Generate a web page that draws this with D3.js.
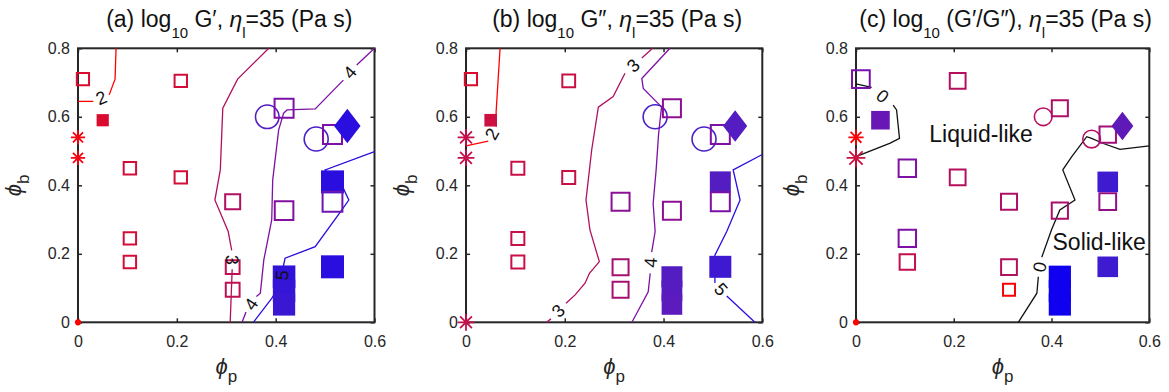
<!DOCTYPE html>
<html>
<head>
<meta charset="utf-8">
<script src="https://cdn.jsdelivr.net/npm/d3@7"></script>
<style>
  body { margin: 0; background: #fff; }
  text { font-family: "Liberation Sans", Arial, sans-serif; white-space: pre; }
</style>
</head>
<body>
<svg id="fig" width="1169" height="392"></svg>
<script>
// samples: phi_p, phi_b and marker type (shared by the three panels)
const phiP = [0, 0, 0, 0.01, 0.05, 0.105, 0.105, 0.105, 0.208, 0.208, 0.313, 0.313, 0.313,
              0.383, 0.417, 0.417, 0.417, 0.417, 0.417, 0.482, 0.515, 0.515, 0.515, 0.515, 0.545];
const phiB = [0, 0.48, 0.54, 0.71, 0.59, 0.45, 0.245, 0.176, 0.705, 0.423, 0.352, 0.161, 0.095,
              0.60, 0.625, 0.326, 0.133, 0.092, 0.052, 0.535, 0.548, 0.41, 0.352, 0.162, 0.573];
const kind = ["dot", "star", "star", "open", "filled", "open", "open", "open", "open", "open", "open", "open", "open",
              "circle", "open", "open", "filled", "filled", "filled", "circle", "open", "filled", "open", "filled", "diamond"];
const kindB = kind.map((k, i) => i === 0 ? "star" : k);

// per-sample values
const logGp = [2.0, 2.1, 2.1, 2.3, 2.3, 2.35, 2.35, 2.35, 2.35, 2.35, 3.0, 2.7, 2.7,
               4.5, 4.0, 3.9, 4.9, 4.85, 4.8, 4.6, 4.0, 5.0, 4.2, 5.0, 5.0];
const logGpp = [2.6, 2.6, 2.6, 2.3, 2.4, 2.5, 2.5, 2.5, 2.45, 2.5, 3.75, 3.25, 3.25,
                4.6, 3.75, 3.75, 4.5, 4.45, 4.4, 4.6, 4.0, 4.5, 4.0, 4.75, 4.5];
const logRatio = [-0.6, -0.1, -0.45, 0.24, 0.35, 0.2, 0.2, -0.05, 0.0, 0.0, 0.03, 0.0, -0.48,
                  0.0, 0.03, 0.05, 0.8, 0.8, 0.8, 0.0, 0.08, 0.6, 0.12, 0.6, 0.4];

const xTicks = [0, 0.2, 0.4, 0.6];
const yTicks = [0, 0.2, 0.4, 0.6, 0.8];

// contour lines; a label sits in every gap between two pieces
const contGp = [
  {level: 2, pieces: [[[0, 0.645], [0.031, 0.645]], [[0.063, 0.664], [0.075, 0.71], [0.077, 0.8]]]},
  {level: 3, pieces: [[[0.386, 0.8], [0.323, 0.71], [0.293, 0.625], [0.288, 0.445], [0.277, 0.357], [0.304, 0.265], [0.311, 0.21]],
                      [[0.312, 0.155], [0.308, 0]]]},
  {level: 4, pieces: [[[0.6, 0.8], [0.564, 0.751]],
                      [[0.537, 0.707], [0.48, 0.623], [0.423, 0.62], [0.416, 0.61], [0.406, 0.561], [0.394, 0.415],
                       [0.392, 0.299], [0.376, 0.182], [0.369, 0.085], [0.361, 0.075]],
                      [[0.34, 0.03], [0.332, 0]]]},
  {level: 5, pieces: [[[0.6, 0.498], [0.5, 0.445], [0.537, 0.391], [0.548, 0.357], [0.534, 0.328], [0.48, 0.221], [0.419, 0.187], [0.415, 0.16]],
                      [[0.412, 0.115], [0.392, 0.07], [0.355, 0]]]}
];
const contGpp = [
  {level: 2, pieces: [[[0.069, 0.8], [0.061, 0.615], [0.061, 0.571]], [[0.045, 0.529], [0, 0.515]]]},
  {level: 3, pieces: [[[0.378, 0.8], [0.356, 0.772]],
                      [[0.322, 0.727], [0.298, 0.659], [0.268, 0.628], [0.2545, 0.503], [0.243, 0.357], [0.251, 0.27],
                       [0.27, 0.177], [0.25, 0.143], [0.241, 0.114], [0.221, 0.08], [0.2025, 0.0555]],
                      [[0.172, 0.01], [0.163, 0]]]},
  {level: 4, pieces: [[[0.413, 0.8], [0.356, 0.712], [0.359, 0.683], [0.396, 0.629], [0.39, 0.55], [0.385, 0.445],
                       [0.379, 0.347], [0.383, 0.265], [0.376, 0.205]],
                      [[0.373, 0.143], [0.369, 0.089], [0.336, 0]]]},
  {level: 5, pieces: [[[0.6, 0.49], [0.541, 0.445], [0.555, 0.357], [0.528, 0.265], [0.504, 0.196], [0.504, 0.115]],
                      [[0.528, 0.077], [0.585, 0]]]}
];
const contRatio = [
  {level: 0, pieces: [[[0, 0.696], [0.032, 0.686]], [[0.076, 0.634], [0.083, 0.62], [0.089, 0.537], [0.07, 0.523], [0, 0.484]]]},
  {level: 0, pieces: [[[0.332, 0], [0.37, 0.085], [0.373, 0.133]],
                      [[0.38, 0.19], [0.4, 0.27], [0.417, 0.328], [0.448, 0.357], [0.423, 0.445], [0.441, 0.483],
                       [0.472, 0.542], [0.482, 0.537], [0.506, 0.522], [0.54, 0.505], [0.6, 0.515]]]}
];

const colorRange = ["#ff0000", "#cc1040", "#a8106c", "#7e10a6", "#4a20c8", "#1000f0"];
const ink = "#262626";

const svg = d3.select("#fig");
svg.append("rect").attr("width", 1169).attr("height", 392).attr("fill", "#fff");

const panels = [
  {letter: "a", what: "G\u2032", left: 78, right: 374.5, vals: logGp, kinds: kind, contours: contGp,
   colorDomain: [2.0, 2.4, 3.2, 4.0, 4.6, 5.3], sizeDomain: [2, 5]},
  {letter: "b", what: "G\u2033", left: 466, right: 762.3, vals: logGpp, kinds: kindB, contours: contGpp,
   colorDomain: [2.0, 2.4, 3.2, 4.0, 4.6, 5.3], sizeDomain: [2, 5]},
  {letter: "c", what: "(G\u2032/G\u2033)", left: 856, right: 1149.3, vals: logRatio, kinds: kind, contours: contRatio,
   colorDomain: [-0.5, -0.1, 0.05, 0.2, 0.55, 0.8], sizeDomain: [-0.6, 0.9], lineColor: "#111",
   notes: [{text: "Liquid-like", at: [0.15, 0.527]}, {text: "Solid-like", at: [0.402, 0.211]}]}
];

function markerPath(k, s) {
  if (k === "open" || k === "filled") return d3.symbol(d3.symbolSquare, s * s)();
  if (k === "circle") return d3.symbol(d3.symbolCircle, Math.PI * Math.pow(s * 1.12 / 2, 2))();
  if (k === "dot") return d3.symbol(d3.symbolCircle, Math.PI * Math.pow(s * 0.28, 2))();
  const p = d3.path();
  if (k === "diamond") {
    const w = s * 1.15 / 2, h = s * 1.5 / 2;
    p.moveTo(0, -h); p.lineTo(w, 0); p.lineTo(0, h); p.lineTo(-w, 0); p.closePath();
  } else {
    const h = s * 1.25 / 2, d = h * 0.707;
    p.moveTo(-h, 0); p.lineTo(h, 0);
    p.moveTo(0, -h); p.lineTo(0, h);
    p.moveTo(-d, -d); p.lineTo(d, d);
    p.moveTo(-d, d); p.lineTo(d, -d);
  }
  return p.toString();
}

panels.forEach(p => {
  const g = svg.append("g");
  const x = d3.scaleLinear([0, 0.6], [p.left, p.right]);
  const y = d3.scaleLinear([0, 0.8], [322.3, 48.3]);
  const colour = d3.scaleLinear(p.colorDomain, colorRange).clamp(true);
  const size = d3.scaleLinear(p.sizeDomain, [11, 23]).clamp(true);
  const line = d3.line(d => x(d[0]), d => y(d[1]));
  const fmt = d => String(+d.toFixed(1));

  // axes with inward ticks on all four sides
  const axes = [
    [d3.axisBottom(x).tickValues(xTicks).tickFormat(fmt).tickPadding(13), `translate(0,${y(0)})`],
    [d3.axisTop(x).tickValues(xTicks).tickFormat(""), `translate(0,${y(0.8)})`],
    [d3.axisLeft(y).tickValues(yTicks).tickFormat(fmt).tickPadding(8), `translate(${x(0)},0)`],
    [d3.axisRight(y).tickValues(yTicks).tickFormat(""), `translate(${x(0.6)},0)`]
  ];
  axes.forEach(([ax, tr]) => {
    const a = g.append("g").attr("transform", tr)
      .call(ax.tickSizeInner(-4).tickSizeOuter(0));
    a.select(".domain").remove();
    a.selectAll("line").attr("stroke", ink).attr("stroke-width", 1.5);
    a.selectAll("text").attr("fill", ink).attr("font-size", 16)
      .attr("font-family", "Liberation Sans, Arial, sans-serif");
  });
  g.append("rect")
    .attr("x", x(0)).attr("y", y(0.8))
    .attr("width", x(0.6) - x(0)).attr("height", y(0) - y(0.8))
    .attr("fill", "none").attr("stroke", ink).attr("stroke-width", 2);

  // contour lines
  p.contours.forEach(c => {
    c.pieces.forEach(pc => {
      g.append("path").attr("d", line(pc)).attr("fill", "none")
        .attr("stroke", p.lineColor || colour(c.level)).attr("stroke-width", 1.3);
    });
  });

  // markers
  const samples = phiP.map((v, i) => ({px: v, pb: phiB[i], k: p.kinds[i], v: p.vals[i]}));
  const solid = k => k === "filled" || k === "diamond" || k === "dot";
  g.selectAll("path.mk").data(samples).join("path").attr("class", "mk")
    .attr("transform", d => `translate(${x(d.px)},${y(d.pb)})`)
    .attr("d", d => markerPath(d.k, size(d.v)))
    .attr("fill", d => solid(d.k) ? colour(d.v) : "none")
    .attr("stroke", d => solid(d.k) ? "none" : colour(d.v))
    .attr("stroke-width", d => d.k === "open" ? 2 : d.k === "star" ? 1.8 : 1.6);

  // contour labels in the gaps
  p.contours.forEach(c => {
    for (let i = 0; i + 1 < c.pieces.length; i++) {
      const a = c.pieces[i][c.pieces[i].length - 1], b = c.pieces[i + 1][0];
      const x1 = x(a[0]), y1 = y(a[1]), x2 = x(b[0]), y2 = y(b[1]);
      let ang = Math.atan2(y2 - y1, x2 - x1) * 180 / Math.PI;
      if (ang > 90) ang -= 180;
      if (ang < -90) ang += 180;
      g.append("text")
        .attr("transform", `translate(${(x1 + x2) / 2},${(y1 + y2) / 2}) rotate(${ang})`)
        .attr("text-anchor", "middle").attr("dominant-baseline", "central")
        .attr("font-size", 18).attr("fill", "#111").text(c.level);
    }
  });

  (p.notes || []).forEach(n => {
    g.append("text").attr("x", x(n.at[0])).attr("y", y(n.at[1]))
      .attr("font-size", 23).attr("fill", "#111").text(n.text);
  });

  // title
  const cx = (x(0) + x(0.6)) / 2 + 3;
  const t = g.append("text").attr("x", cx).attr("y", 27)
    .attr("text-anchor", "middle").attr("font-size", 23).attr("fill", "#111");
  t.append("tspan").text(`(${p.letter}) log`);
  t.append("tspan").attr("dy", 11).attr("font-size", 15).text("10");
  t.append("tspan").attr("dy", -11).text(` ${p.what}, `);
  t.append("tspan").attr("font-style", "italic").text("\u03b7");
  t.append("tspan").attr("dy", 11).attr("font-size", 15).text("l");
  t.append("tspan").attr("dy", -11).text("=35 (Pa s)");

  // axis labels
  const xl = g.append("text").attr("x", (x(0) + x(0.6)) / 2).attr("y", 374)
    .attr("text-anchor", "middle").attr("font-size", 22).attr("fill", ink);
  xl.append("tspan").attr("font-style", "italic").text("\u03d5");
  xl.append("tspan").attr("dy", 8).attr("font-size", 17).text("p");

  const yl = g.append("text")
    .attr("transform", `translate(${x(0) - 57},${(y(0) + y(0.8)) / 2}) rotate(-90)`)
    .attr("text-anchor", "middle").attr("font-size", 22).attr("fill", ink);
  yl.append("tspan").attr("font-style", "italic").text("\u03d5");
  yl.append("tspan").attr("dy", 8).attr("font-size", 17).text("b");
});
</script>
</body>
</html>
